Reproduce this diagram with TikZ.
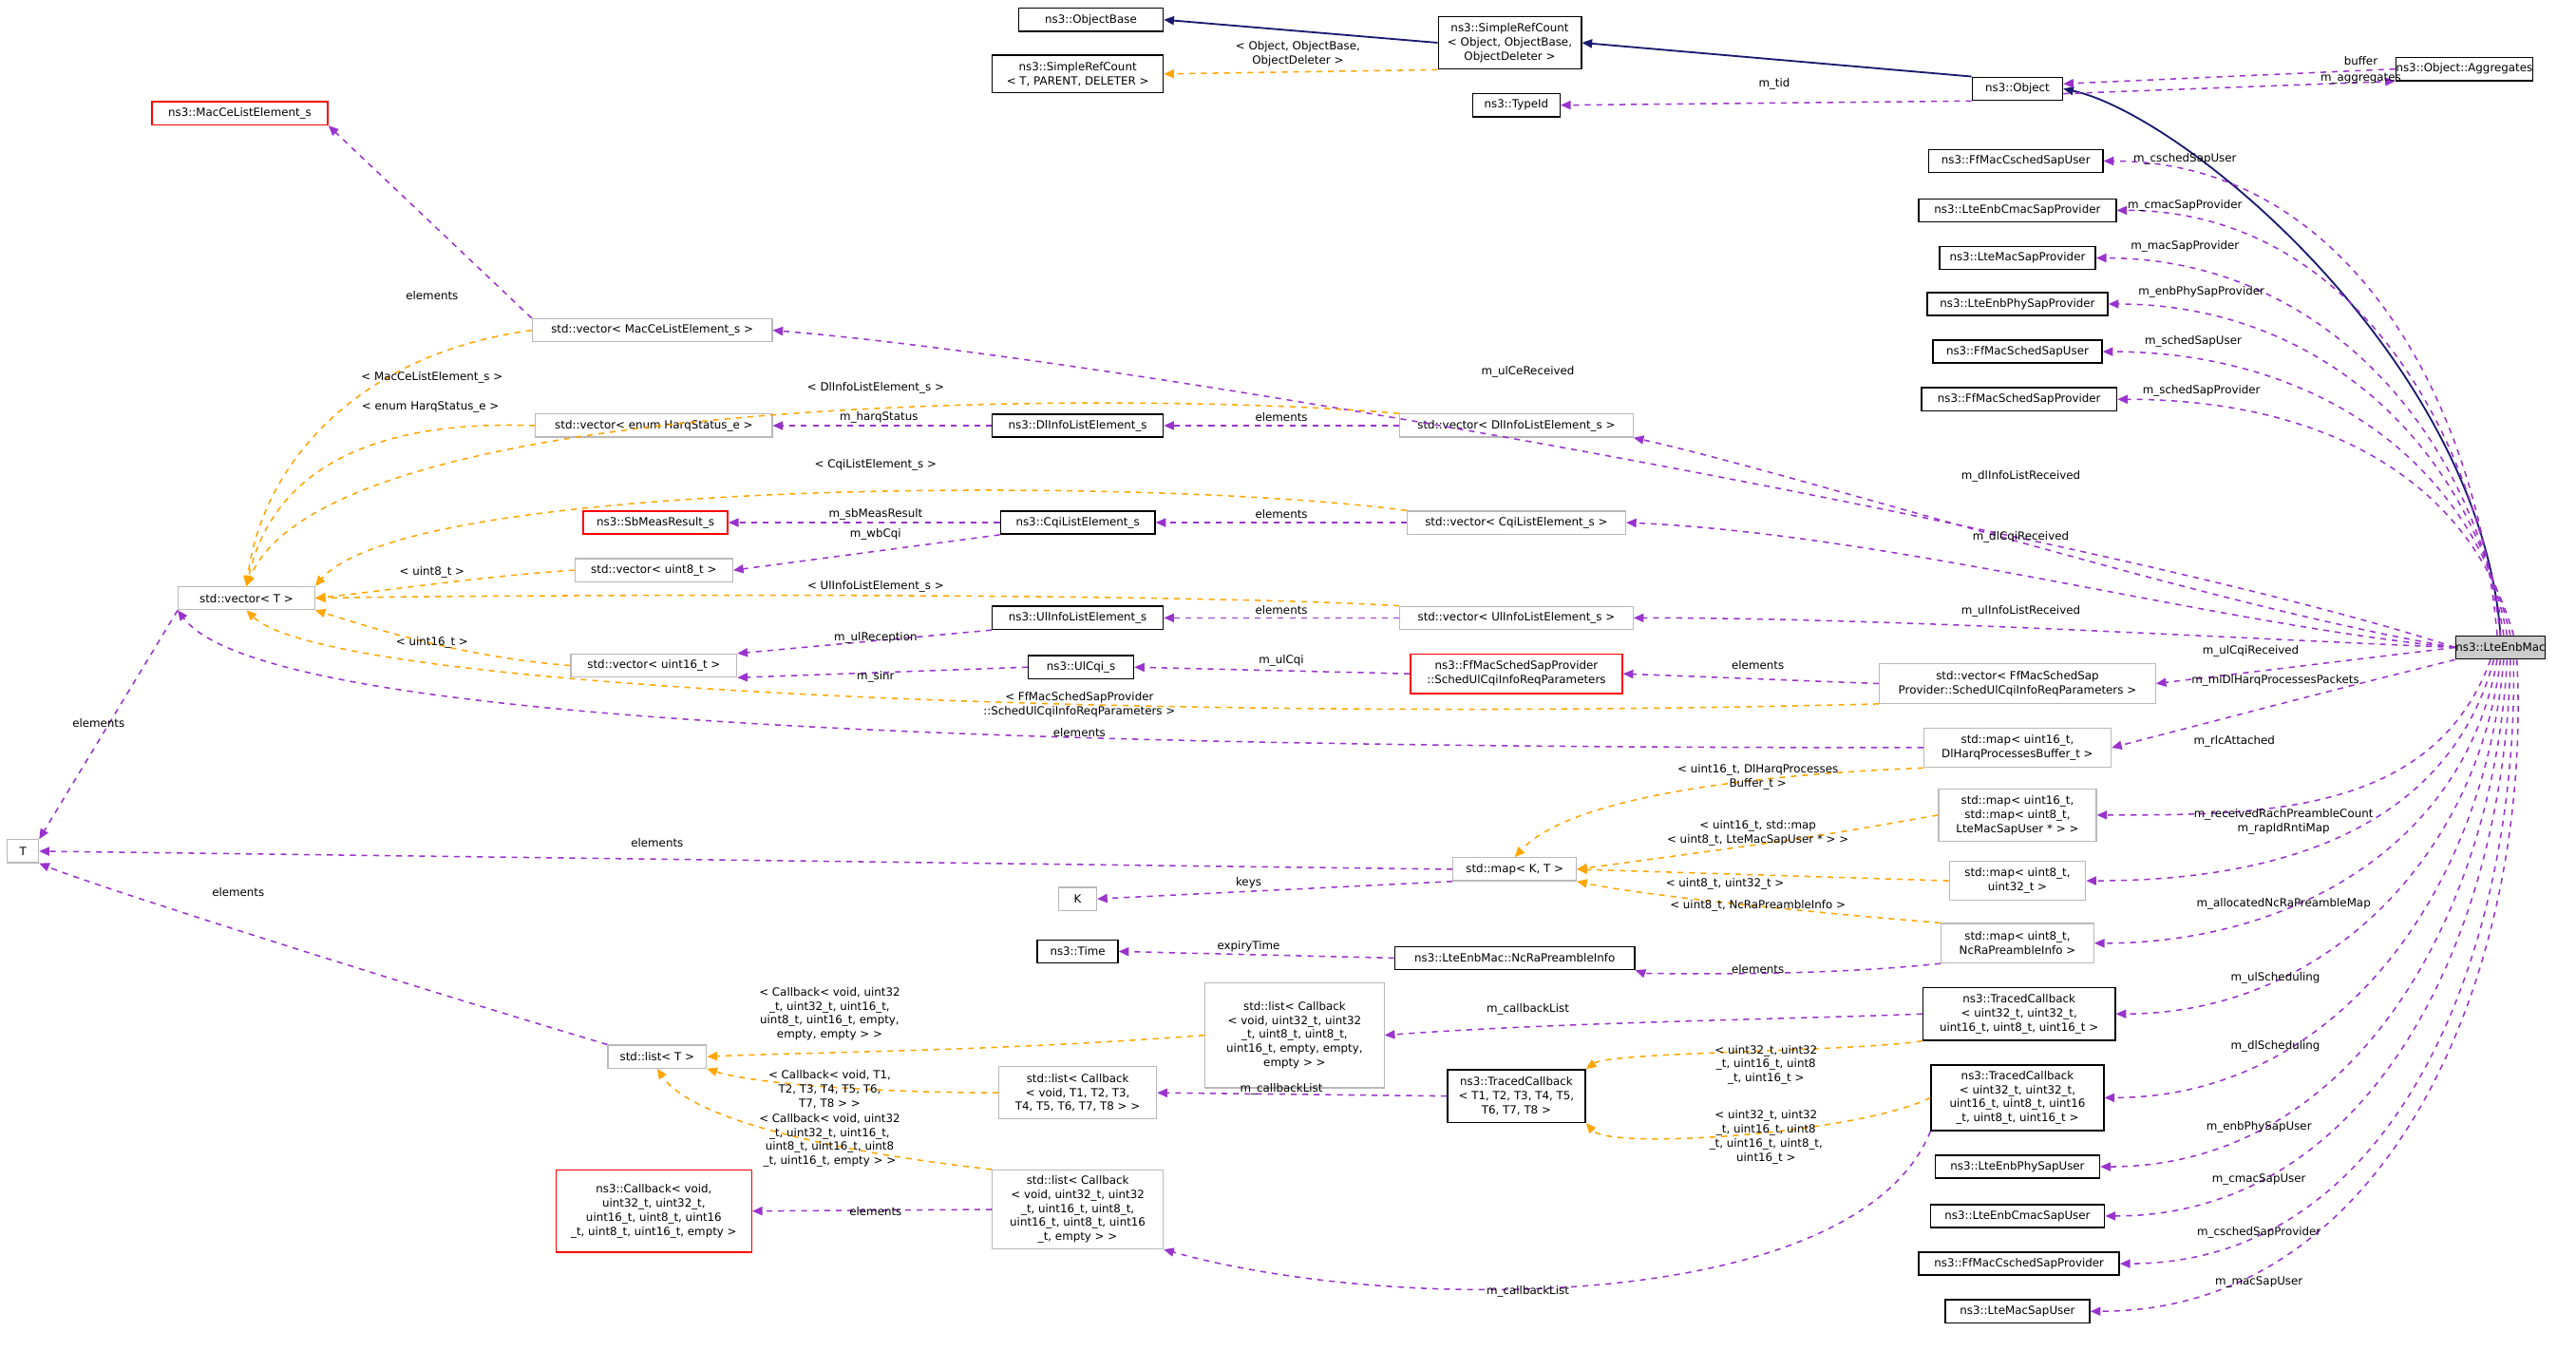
\documentclass[tikz,border=0pt]{standalone}
\usepackage{fontspec}
\setmainfont{DejaVu Sans}
\usetikzlibrary{arrows.meta,calc}
\definecolor{pur}{HTML}{9A32CD}
\definecolor{org}{HTML}{FFA500}
\definecolor{nav}{HTML}{191970}
\tikzset{
 base/.style={inner sep=0pt,align=center,font=\fontsize{3.9}{4.9}\selectfont},
 gb/.style={base,draw=gray!55,line width=0.4pt,fill=white},
 bb/.style={base,draw=black,line width=0.5pt,fill=white},
 rb/.style={base,draw=red,line width=0.5pt,fill=white},
 mb/.style={base,draw=black,line width=0.5pt,fill=gray!40},
 lbl/.style={base,align=center},
 pe/.style={pur,dash pattern=on 2pt off 2pt,line width=0.5pt,-{Triangle[length=3.5pt,width=3pt]}},
 oe/.style={org,dash pattern=on 2pt off 2pt,line width=0.5pt,-{Triangle[length=3.5pt,width=3pt]}},
 inh/.style={nav,line width=0.6pt,-{Triangle[length=3.5pt,width=3pt]}},
}
\newcommand\bx[7][gb]{\node[#1,minimum width=#5*0.02cm,minimum height=#6*0.02cm] (#2) at (#3,#4) {#7};}
\newcommand\lb[3]{\node[lbl] at (#1,#2) {#3};}
\begin{document}
\begin{tikzpicture}[x=0.02cm,y=-0.02cm]
\useasboundingbox[fill=white] (0,0) rectangle (1568,822);
% nodes
\bx[bb]{ob}{664}{12}{88}{14}{ns3::ObjectBase}
\bx[bb]{sr}{919}{26}{87}{32}{ns3::SimpleRefCount\\< Object, ObjectBase,\\ObjectDeleter >}
\bx[bb]{srt}{656}{45}{104}{23}{ns3::SimpleRefCount\\< T, PARENT, DELETER >}
\bx[bb]{obj}{1228}{54}{55}{14}{ns3::Object}
\bx[bb]{tid}{923}{64}{53}{14}{ns3::TypeId}
\bx[bb]{agg}{1500}{42}{76}{14}{ns3::Object::Aggregates}
\bx[bb]{r1}{1227}{98}{106}{14}{ns3::FfMacCschedSapUser}
\bx[bb]{r2}{1228}{128}{120}{14}{ns3::LteEnbCmacSapProvider}
\bx[bb]{r3}{1228}{157}{95}{14}{ns3::LteMacSapProvider}
\bx[bb]{r4}{1228}{185}{110}{14}{ns3::LteEnbPhySapProvider}
\bx[bb]{r5}{1228}{214}{103}{14}{ns3::FfMacSchedSapUser}
\bx[bb]{r6}{1229}{243}{119}{14}{ns3::FfMacSchedSapProvider}
\bx[rb]{mace}{146}{69}{107}{14}{ns3::MacCeListElement\_s}
\bx{vmace}{397}{201}{146}{14}{std::vector< MacCeListElement\_s >}
\bx{vharq}{398}{259}{144}{14}{std::vector< enum HarqStatus\_e >}
\bx[bb]{dli}{656}{259}{104}{14}{ns3::DlInfoListElement\_s}
\bx{vdl}{923}{259}{142}{14}{std::vector< DlInfoListElement\_s >}
\bx[rb]{sbm}{399}{318}{88}{14}{ns3::SbMeasResult\_s}
\bx[bb]{cqi}{656}{318}{94}{14}{ns3::CqiListElement\_s}
\bx{vcqi}{923}{318}{133}{14}{std::vector< CqiListElement\_s >}
\bx{vu8}{398}{347}{96}{14}{std::vector< uint8\_t >}
\bx{vT}{150}{364}{83}{14}{std::vector< T >}
\bx[bb]{uli}{656}{376}{104}{14}{ns3::UlInfoListElement\_s}
\bx{vul}{923}{376}{142}{14}{std::vector< UlInfoListElement\_s >}
\bx{vu16}{398}{405}{101}{14}{std::vector< uint16\_t >}
\bx[bb]{ulcqi}{658}{406}{64}{14}{ns3::UlCqi\_s}
\bx[rb]{sch}{923}{410}{129}{24}{ns3::FfMacSchedSapProvider\\::SchedUlCqiInfoReqParameters}
\bx{vff}{1228}{416}{168}{24}{std::vector< FfMacSchedSap\\Provider::SchedUlCqiInfoReqParameters >}
\bx[mb]{mac}{1522}{394}{54}{14}{ns3::LteEnbMac}
\bx{mdl}{1228}{455}{114}{24}{std::map< uint16\_t,\\DlHarqProcessesBuffer\_t >}
\bx{mmm}{1228}{496}{96}{32}{std::map< uint16\_t,\\std::map< uint8\_t,\\LteMacSapUser * > >}
\bx{T}{14}{518}{19}{14}{T}
\bx{mkt}{922}{529}{75}{14}{std::map< K, T >}
\bx{m832}{1228}{536}{83}{24}{std::map< uint8\_t,\\uint32\_t >}
\bx{K}{656}{547}{23}{14}{K}
\bx[bb]{time}{656}{579}{49}{14}{ns3::Time}
\bx[bb]{nc}{922}{583}{146}{14}{ns3::LteEnbMac::NcRaPreambleInfo}
\bx{mnc}{1228}{574}{93}{24}{std::map< uint8\_t,\\NcRaPreambleInfo >}
\bx{lcb5}{788}{630}{109}{64}{std::list< Callback\\< void, uint32\_t, uint32\\\_t, uint8\_t, uint8\_t,\\uint16\_t, empty, empty,\\empty > >}
\bx[bb]{tc5}{1229}{617}{117}{32}{ns3::TracedCallback\\< uint32\_t, uint32\_t,\\uint16\_t, uint8\_t, uint16\_t >}
\bx{lT}{400}{643}{60}{14}{std::list< T >}
\bx{lcbT}{656}{665}{96}{32}{std::list< Callback\\< void, T1, T2, T3,\\T4, T5, T6, T7, T8 > >}
\bx[bb]{tcT}{923}{667}{84}{32}{ns3::TracedCallback\\< T1, T2, T3, T4, T5,\\T6, T7, T8 >}
\bx[bb]{tc7}{1228}{668}{105}{40}{ns3::TracedCallback\\< uint32\_t, uint32\_t,\\uint16\_t, uint8\_t, uint16\\\_t, uint8\_t, uint16\_t >}
\bx[rb]{cb}{398}{737}{119}{50}{ns3::Callback< void,\\uint32\_t, uint32\_t,\\uint16\_t, uint8\_t, uint16\\\_t, uint8\_t, uint16\_t, empty >}
\bx{lcb7}{656}{736}{104}{48}{std::list< Callback\\< void, uint32\_t, uint32\\\_t, uint16\_t, uint8\_t,\\uint16\_t, uint8\_t, uint16\\\_t, empty > >}
\bx[bb]{s1}{1228}{710}{100}{14}{ns3::LteEnbPhySapUser}
\bx[bb]{s2}{1228}{740}{106}{14}{ns3::LteEnbCmacSapUser}
\bx[bb]{s3}{1229}{769}{122}{14}{ns3::FfMacCschedSapProvider}
\bx[bb]{s4}{1228}{798}{88}{14}{ns3::LteMacSapUser}
% inheritance
\draw[inh] (sr.west) -- (ob.east);
\draw[inh] (obj.north west) -- (sr.east);
\draw[inh] (mac.north) .. controls (1510,220) and (1330,70) .. (obj.east);
\draw[oe] (sr.south west) -- (srt.east); \lb{790}{33}{< Object, ObjectBase,\\ObjectDeleter >}
% object
\draw[pe] (agg.west) -- ($(obj.east)+(0,-3)$); \lb{1437}{37}{buffer}
\draw[pe] ($(obj.east)+(0,3)$) -- (agg.south west); \lb{1437}{48}{m\_aggregates}
\draw[pe] (obj.south west) -- (tid.east); \lb{1080}{51}{m\_tid}
% mac to right column
\foreach \t/\dx/\o in {r1/-2/95,r2/0/97,r3/2/99,r4/4/101,r5/6/103,r6/8/106}
  \draw[pe] ($(mac.north)+(\dx,0)$) to[out=\o,in=0] (\t.east);
\lb{1330}{97}{m\_cschedSapUser}\lb{1330}{125}{m\_cmacSapProvider}\lb{1330}{150}{m\_macSapProvider}
\lb{1340}{178}{m\_enbPhySapProvider}\lb{1335}{208}{m\_schedSapUser}\lb{1340}{238}{m\_schedSapProvider}
\draw[pe] (mac.west) .. controls (1300,330) and (700,220) .. (vmace.east); \lb{930}{226}{m\_ulCeReceived}
\draw[pe] (mac.west) .. controls (1350,370) and (1100,290) .. (vdl.south east); \lb{1230}{290}{m\_dlInfoListReceived}
\draw[pe] (mac.west) .. controls (1350,380) and (1150,325) .. (vcqi.east); \lb{1230}{327}{m\_dlCqiReceived}
\draw[pe] (mac.west) .. controls (1350,388) and (1150,376) .. (vul.east); \lb{1230}{372}{m\_ulInfoListReceived}
\draw[pe] (mac.west) -- (vff.east); \lb{1370}{396}{m\_ulCqiReceived}
\draw[pe] (mac.south west) .. controls (1420,420) .. (mdl.east); \lb{1385}{414}{m\_miDlHarqProcessesPackets}
\foreach \t/\dx/\o in {mmm/-6/-110,m832/-4/-105,mnc/-2/-100,tc5/0/-97,tc7/2/-95,s1/4/-93,s2/6/-91,s3/8/-89,s4/10/-87}
  \draw[pe] ($(mac.south)+(\dx,0)$) to[out=\o,in=0] (\t.east);
\lb{1360}{451}{m\_rlcAttached}\lb{1390}{500}{m\_receivedRachPreambleCount\\m\_rapIdRntiMap}
\lb{1390}{550}{m\_allocatedNcRaPreambleMap}\lb{1385}{595}{m\_ulScheduling}\lb{1385}{637}{m\_dlScheduling}
\lb{1375}{686}{m\_enbPhySapUser}\lb{1375}{718}{m\_cmacSapUser}\lb{1375}{750}{m\_cschedSapProvider}\lb{1375}{780}{m\_macSapUser}
% vectors
\draw[pe] (vmace.north west) -- (mace.south east); \lb{263}{180}{elements}
\draw[oe] (vmace.west) .. controls (220,215) and (160,280) .. (vT.north); \lb{263}{230}{< MacCeListElement\_s >}
\draw[pe] (vdl.west) -- (dli.east); \lb{780}{254}{elements}
\draw[oe] (vdl.north west) .. controls (700,238) and (200,236) .. (vT.north); \lb{533}{236}{< DlInfoListElement\_s >}
\draw[pe] (dli.west) -- (vharq.east); \lb{535}{254}{m\_harqStatus}
\draw[oe] (vharq.west) .. controls (220,255) and (165,290) .. (vT.north); \lb{262}{248}{< enum HarqStatus\_e >}
\draw[pe] (vcqi.west) -- (cqi.east); \lb{780}{313}{elements}
\draw[oe] (vcqi.north west) .. controls (700,290) and (250,290) .. (vT.north east); \lb{533}{283}{< CqiListElement\_s >}
\draw[pe] (cqi.west) -- (sbm.east); \lb{533}{313}{m\_sbMeasResult}
\draw[pe] (cqi.south west) -- (vu8.east); \lb{533}{325}{m\_wbCqi}
\draw[oe] (vu8.west) .. controls (300,350) and (230,360) .. (vT.east); \lb{263}{348}{< uint8\_t >}
\draw[pe] (vul.west) -- (uli.east); \lb{780}{371}{elements}
\draw[oe] (vul.north west) .. controls (700,360) and (300,362) .. (vT.east); \lb{533}{357}{< UlInfoListElement\_s >}
\draw[pe] (uli.south west) -- (vu16.north east); \lb{533}{388}{m\_ulReception}
\draw[pe] (ulcqi.west) -- (vu16.south east); \lb{533}{412}{m\_sinr}
\draw[oe] (vu16.west) .. controls (280,400) and (220,380) .. (vT.south east); \lb{263}{391}{< uint16\_t >}
\draw[pe] (sch.west) -- (ulcqi.east); \lb{780}{402}{m\_ulCqi}
\draw[pe] (vff.west) -- (sch.east); \lb{1070}{405}{elements}
\draw[oe] (vff.south west) .. controls (700,440) and (200,420) .. (vT.south); \lb{657}{429}{< FfMacSchedSapProvider\\::SchedUlCqiInfoReqParameters >}
\draw[pe] (mdl.west) .. controls (600,455) and (160,440) .. (vT.south west); \lb{657}{446}{elements}
\draw[pe] (vT.south west) -- (T.north east); \lb{60}{440}{elements}
% maps
\draw[oe] (mdl.south west) .. controls (1100,470) and (960,480) .. (mkt.north); \lb{1070}{473}{< uint16\_t, DlHarqProcesses\\Buffer\_t >}
\draw[oe] (mmm.west) .. controls (1100,510) .. (mkt.east); \lb{1070}{507}{< uint16\_t, std::map\\< uint8\_t, LteMacSapUser * > >}
\draw[oe] (m832.west) -- (mkt.east); \lb{1050}{538}{< uint8\_t, uint32\_t >}
\draw[oe] (mnc.north west) .. controls (1100,555) and (1000,545) .. (mkt.south east); \lb{1070}{551}{< uint8\_t, NcRaPreambleInfo >}
\draw[pe] (mnc.south west) .. controls (1100,595) and (1000,592) .. (nc.south east); \lb{1070}{590}{elements}
\draw[pe] (mkt.west) -- (T.east); \lb{400}{513}{elements}
\draw[pe] (mkt.south west) -- (K.east); \lb{760}{537}{keys}
\draw[pe] (nc.west) -- (time.east); \lb{760}{576}{expiryTime}
\draw[pe] (lT.north west) .. controls (250,600) and (60,540) .. (T.south east); \lb{145}{543}{elements}
% callbacks
\draw[pe] (tc5.west) .. controls (1100,620) and (950,622) .. (lcb5.east); \lb{930}{614}{m\_callbackList}
\draw[oe] (tc5.south west) .. controls (1130,640) and (980,640) .. (tcT.north east); \lb{1075}{648}{< uint32\_t, uint32\\\_t, uint16\_t, uint8\\\_t, uint16\_t >}
\draw[oe] (lcb5.west) .. controls (600,640) and (500,640) .. (lT.east); \lb{505}{617}{< Callback< void, uint32\\\_t, uint32\_t, uint16\_t,\\uint8\_t, uint16\_t, empty,\\empty, empty > >}
\draw[pe] (tcT.west) -- (lcbT.east); \lb{780}{663}{m\_callbackList}
\draw[oe] (lcbT.west) .. controls (540,665) and (460,660) .. (lT.south east); \lb{505}{663}{< Callback< void, T1,\\T2, T3, T4, T5, T6,\\T7, T8 > >}
\draw[oe] (tc7.west) .. controls (1130,690) and (980,700) .. (tcT.south east); \lb{1075}{692}{< uint32\_t, uint32\\\_t, uint16\_t, uint8\\\_t, uint16\_t, uint8\_t,\\uint16\_t >}
\draw[pe] (tc7.south west) .. controls (1130,800) and (850,800) .. (lcb7.south east); \lb{930}{786}{m\_callbackList}
\draw[pe] (lcb7.west) -- (cb.east); \lb{533}{737}{elements}
\draw[oe] (lcb7.north west) .. controls (500,700) and (420,680) .. (lT.south); \lb{505}{694}{< Callback< void, uint32\\\_t, uint32\_t, uint16\_t,\\uint8\_t, uint16\_t, uint8\\\_t, uint16\_t, empty > >}
\end{tikzpicture}
\end{document}
